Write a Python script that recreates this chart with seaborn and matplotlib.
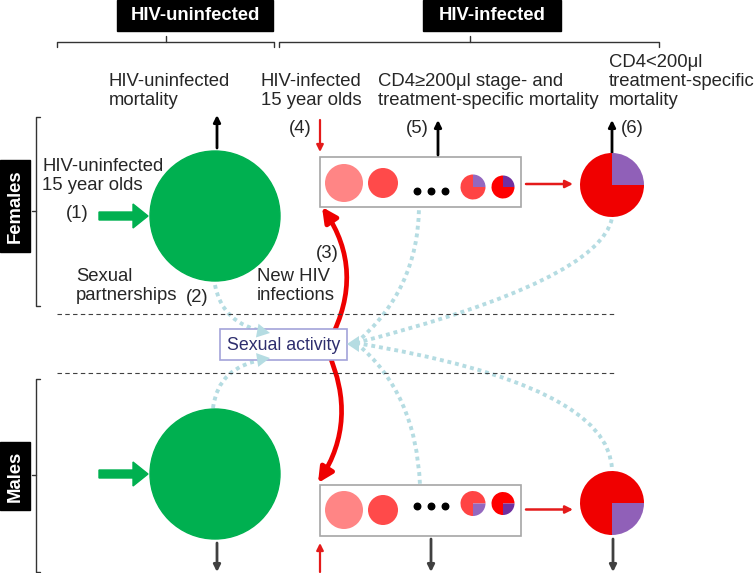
import numpy as np
import matplotlib
matplotlib.use("Agg")
import matplotlib.pyplot as plt
import matplotlib.patches as mpatches
from matplotlib.path import Path
import seaborn as sns

# ---------------------------------------
# Data: labels and compartment contents
# ---------------------------------------
header_labels = ["HIV-uninfected", "HIV-infected"]
sex_labels = ["Females", "Males"]
flow_labels = ["HIV-uninfected\nmortality",
               "HIV-infected\n15 year olds",
               "CD4\u2265200\u03bcl stage- and\ntreatment-specific mortality",
               "CD4<200\u03bcl\ntreatment-specific\nmortality",
               "HIV-uninfected\n15 year olds",
               "Sexual\npartnerships",
               "New HIV\ninfections"]
step_labels = ["(1)", "(2)", "(3)", "(4)", "(5)", "(6)"]
hub_label = "Sexual activity"

# CD4>=200 stages: fill colour and share on treatment (purple slice)
stage_colors = ["#ff8585", "#ff4a4a", "#ff4444", "#ff0000"]
stage_treated = [0.0, 0.0, 0.25, 0.25]
treated_colors = ["#8e62c0", "#8e62c0", "#9468bf", "#7030a0"]
late_treated = 0.25          # CD4<200 compartment

# ---------------------------------------
# Layout (pixel space, y grows downward)
# ---------------------------------------
sns.set_theme(style="white")
plt.rcParams['font.family'] = ['Liberation Sans', 'DejaVu Sans']

fig = plt.figure(figsize=(7.55, 5.73), dpi=100)
ax = fig.add_axes([0, 0, 1, 1])
ax.set_xlim(0, 755)
ax.set_ylim(573, 0)
ax.axis('off')

GREEN = "#00b050"
DOT = "#b5dce2"
FS = 13.3

row_y = {"Females": 216, "Males": 474}        # green circles
box_y = {"Females": (157, 207), "Males": (485, 536)}
stage_x = [344, 383, 473, 503]
stage_r = [19, 15, 12.5, 11.5]
dots_x = [417, 431, 445]
pie_x, pie_r = 612, 32
pie_y = {"Females": 185, "Males": 503}
start_angle = {"Females": 270, "Males": 0}   # purple slice top-right / bottom-right


def arrow(x0, y0, x1, y1, color, lw=2.0, ms=12, z=3):
    ax.annotate('', xy=(x1, y1), xytext=(x0, y0),
                arrowprops=dict(arrowstyle='-|>', color=color, lw=lw,
                                mutation_scale=ms, shrinkA=0, shrinkB=0),
                zorder=z)


def pie(cx, cy, r, base, purple, frac, a0, z=4):
    a1 = a0 + 360 * frac
    ax.add_patch(mpatches.Wedge((cx, cy), r, a1, a0 + 360, facecolor=base,
                                edgecolor='none', zorder=z))
    if frac > 0:
        ax.add_patch(mpatches.Wedge((cx, cy), r, a0, a1, facecolor=purple,
                                    edgecolor='none', zorder=z))


def dotted(p0, p1, p2):
    path = Path([p0, p1, p2], [Path.MOVETO, Path.CURVE3, Path.CURVE3])
    ax.add_patch(mpatches.PathPatch(path, fill=False, edgecolor=DOT, lw=2.8,
                                    linestyle=(0, (1, 1)), zorder=1))


def head(tip, frm, length=12, half=7, color=DOT):
    tip = np.array(tip, float)
    d = tip - np.array(frm, float)
    d /= np.hypot(*d)
    n = np.array([-d[1], d[0]])
    base = tip - d * length
    ax.add_patch(mpatches.Polygon([tip, base + n * half, base - n * half],
                                  closed=True, facecolor=color,
                                  edgecolor='none', zorder=6))


# header boxes and brackets
for lab, (x0, x1), (b0, b1, bc) in zip(header_labels,
                                       [(117, 273), (423, 561)],
                                       [(57, 274, 166), (279, 659, 470)]):
    ax.add_patch(mpatches.Rectangle((x0, 0), x1 - x0, 31, color='black', zorder=2))
    ax.text((x0 + x1) / 2, 16, lab, color='white', fontsize=FS,
            fontweight='bold', ha='center', va='center')
    ax.plot([b0, b0, b1, b1], [47, 42, 42, 47], color='#333333', lw=1)
    ax.plot([bc, bc], [42, 36], color='#333333', lw=1)

# sex boxes and brackets
for lab, (y0, y1), (b0, b1, bc) in zip(sex_labels, [(160, 252), (442, 510)],
                                       [(117, 306, 211), (379, 572, 475)]):
    ax.add_patch(mpatches.Rectangle((0, y0), 30, y1 - y0, color='black', zorder=2))
    ax.text(15, (y0 + y1) / 2, lab, color='white', fontsize=FS,
            fontweight='bold', ha='center', va='center', rotation=90)
    ax.plot([40, 36, 36, 40], [b0, b0, b1, b1], color='#333333', lw=1)
    ax.plot([32, 36], [bc, bc], color='#333333', lw=1)

# dashed separators
for y in [314, 373]:
    ax.plot([57, 615], [y, y], color='#404040', lw=0.8, linestyle=(0, (4, 3)))

# flow texts
text_pos = [(109, 73), (261, 73), (378, 73), (609, 54), (42, 158), (76, 268), (257, 268)]
for lab, (x, y) in zip(flow_labels, text_pos):
    ax.text(x, y, lab, fontsize=FS, ha='left', va='top', linespacing=1.17)
step_pos = [(66, 205), (186, 289), (316, 245), (289, 120), (406, 120), (621, 120)]
for lab, (x, y) in zip(step_labels, step_pos):
    ax.text(x, y, lab, fontsize=FS, ha='left', va='top')

# compartments
for sex in sex_labels:
    cy = row_y[sex]
    ax.add_patch(mpatches.Circle((215, cy), 65, color=GREEN, zorder=3))
    ax.add_patch(mpatches.FancyArrow(99, cy, 49, 0, width=8, head_width=24,
                                     head_length=15, length_includes_head=True,
                                     color=GREEN, zorder=3))
    y0, y1 = box_y[sex]
    mid = (y0 + y1) / 2
    ax.add_patch(mpatches.Rectangle((320, y0), 201, y1 - y0, facecolor='white',
                                    edgecolor='#a6a6a6', lw=1.2, zorder=2))
    for i, (col, frac, pcol) in enumerate(zip(stage_colors, stage_treated, treated_colors)):
        if i < 2:
            sy = mid + (1 if sex == "Females" else -0.5)
        else:
            sy = mid + (5 if sex == "Females" else -7)
        pie(stage_x[i], sy, stage_r[i], col, pcol, frac, start_angle[sex])
    dy = 191 if sex == "Females" else 506
    ax.scatter(dots_x, [dy] * 3, s=22, color='black', zorder=4)
    py = pie_y[sex]
    pie(pie_x, py, pie_r, "#f00000", "#9060b8", late_treated, start_angle[sex])
    ay = mid + (2 if sex == "Females" else -1)
    arrow(526, ay, 573, ay, '#e41a1a', lw=1.8, ms=11)

# mortality and entry arrows
arrow(217, 148, 217, 115, 'black', lw=2, ms=10)
arrow(438, 155, 438, 120, 'black', lw=2, ms=10)
arrow(612, 153, 612, 120, 'black', lw=2, ms=10)
arrow(320, 120, 320, 152, '#e41a1a', lw=1.6, ms=10)
arrow(320, 572, 320, 543, '#e41a1a', lw=1.6, ms=10)
for x, y in [(217, 543), (431, 539), (613, 539)]:
    arrow(x, y, x, 572, '#404040', lw=2, ms=10)

# new infections (3)
for a, b, rad in [((330, 340), (322, 207), 0.3), ((328, 352), (318, 483), -0.27)]:
    ax.add_patch(mpatches.FancyArrowPatch(a, b, connectionstyle=f"arc3,rad={rad}",
                                          arrowstyle='-|>', mutation_scale=22,
                                          color='#ee0000', lw=3.4, zorder=1.5,
                                          shrinkA=0, shrinkB=0))

# sexual activity hub
ax.add_patch(mpatches.Rectangle((220, 329), 127, 31, facecolor='white',
                                edgecolor='#a3a3d9', lw=1.2, zorder=5))
ax.text(283.5, 345, hub_label, fontsize=12.8, color='#2e2e6e',
        ha='center', va='center', zorder=6)

hub_r = (356, 343)
dotted((215, 285), (222, 324), (266, 332))
dotted((213, 408), (218, 366), (266, 359))
dotted(hub_r, (418, 290), (419, 208))
dotted(hub_r, (600, 280), (612, 218))
dotted(hub_r, (416, 392), (420, 485))
dotted(hub_r, (610, 385), (612, 470))
head((270, 333), (222, 324), length=13, half=7)
head((270, 358), (218, 366), length=13, half=7)
head((347, 344), (420, 344), length=12, half=8)

fig.savefig("out.png", dpi=100)
